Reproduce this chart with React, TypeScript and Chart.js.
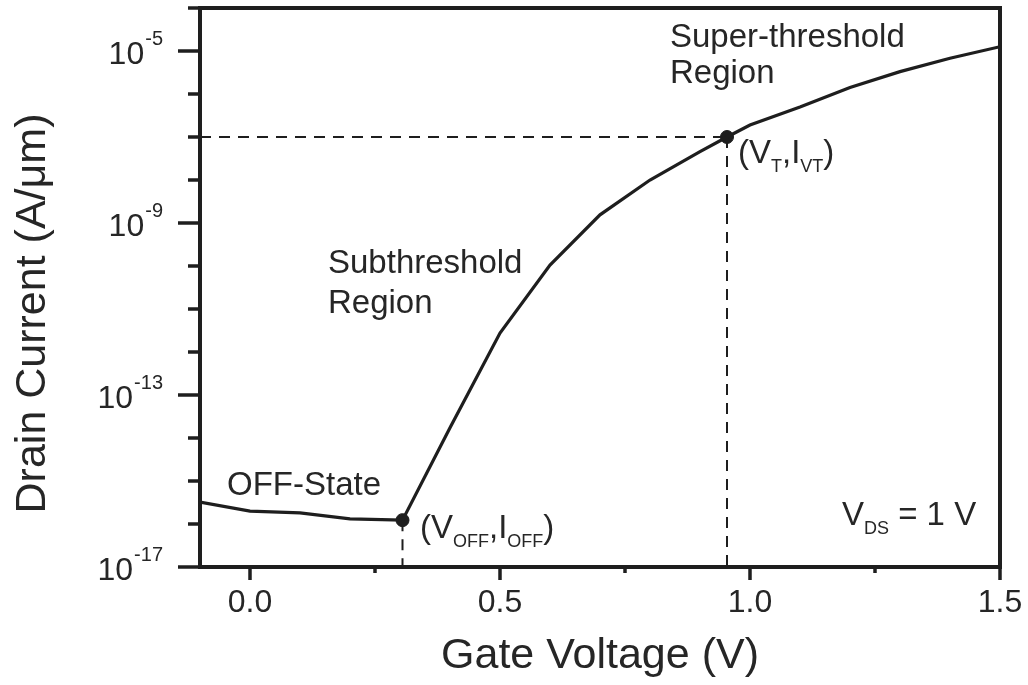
import { useEffect, useRef } from 'react';
import { Chart, registerables } from 'chart.js';

Chart.register(...registerables);

// ---- data ----
const gateVoltage = [-0.1, 0.0, 0.1, 0.2, 0.305, 0.4, 0.5, 0.6, 0.7, 0.8, 0.9, 0.954, 1.0, 1.1, 1.2, 1.3, 1.4, 1.5];
const logDrainCurrent = [-15.49, -15.7, -15.74, -15.88, -15.91, -13.76, -11.56, -9.98, -8.81, -8.0, -7.34, -7.0, -6.72, -6.3, -5.85, -5.48, -5.17, -4.9];

const markerNames = ['OFF', 'VT'];
const markerVoltage = [0.305, 0.954];
const markerLogCurrent = [-15.91, -7.0];

const xTicksMajor = [0.0, 0.5, 1.0, 1.5];
const xTickLabels = ['0.0', '0.5', '1.0', '1.5'];
const xTicksMinor = [0.25, 0.75, 1.25];
const yDecades = [-17, -16, -15, -14, -13, -12, -11, -10, -9, -8, -7, -6, -5, -4];
const yLabelExps = [-17, -13, -9, -5];

const X_MIN = -0.1;
const X_MAX = 1.5;
const Y_MIN_EXP = -17;
const Y_MAX_EXP = -4;

const INK = '#1e1e1e';
const TEXT = '#262626';
const FONT = '"Liberation Sans", Arial, Helvetica, sans-serif';

type Part = [string, boolean];
// annotations anchored in data coordinates (V, log10 I)
const annotations: { parts: Part[]; v: number; e: number; size: number }[] = [
  { parts: [['Super-threshold', false]], v: 0.84, e: -4.907, size: 33 },
  { parts: [['Region', false]], v: 0.84, e: -5.744, size: 33 },
  { parts: [['Subthreshold', false]], v: 0.156, e: -10.163, size: 33 },
  { parts: [['Region', false]], v: 0.156, e: -11.093, size: 33 },
  { parts: [['OFF-State', false]], v: -0.046, e: -15.326, size: 33 },
  { parts: [['(V', false], ['OFF', true], [',I', false], ['OFF', true], [')', false]], v: 0.34, e: -16.326, size: 33 },
  { parts: [['(V', false], ['T', true], [',I', false], ['VT', true], [')', false]], v: 0.976, e: -7.605, size: 33 },
  { parts: [['V', false], ['DS', true], [' = 1 V', false]], v: 1.184, e: -16.02, size: 33 },
];

function drawRich(ctx: CanvasRenderingContext2D, parts: Part[], x: number, y: number, size: number) {
  let cx = x;
  ctx.textAlign = 'left';
  ctx.textBaseline = 'alphabetic';
  for (const [t, sub] of parts) {
    if (sub) {
      ctx.font = `18px ${FONT}`;
      ctx.fillText(t, cx, y + 9);
      cx += ctx.measureText(t).width;
    } else {
      ctx.font = `${size}px ${FONT}`;
      ctx.fillText(t, cx, y);
      cx += ctx.measureText(t).width;
    }
  }
}

const framePlugin = {
  id: 'frame',
  afterDatasetsDraw(chart: any) {
    const { ctx, chartArea: a, scales } = chart;
    const x = scales.x;
    const y = scales.y;
    ctx.save();
    ctx.strokeStyle = INK;
    ctx.fillStyle = TEXT;
    ctx.lineCap = 'butt';

    // y ticks
    ctx.lineWidth = 3.5;
    for (const e of yDecades) {
      const py = y.getPixelForValue(Math.pow(10, e));
      const len = yLabelExps.includes(e) ? 22 : 12;
      ctx.beginPath();
      ctx.moveTo(a.left - len, py);
      ctx.lineTo(a.left, py);
      ctx.stroke();
    }
    // x ticks
    for (const v of xTicksMajor) {
      const px = x.getPixelForValue(v);
      ctx.beginPath();
      ctx.moveTo(px, a.bottom);
      ctx.lineTo(px, a.bottom + 13);
      ctx.stroke();
    }
    for (const v of xTicksMinor) {
      const px = x.getPixelForValue(v);
      ctx.beginPath();
      ctx.moveTo(px, a.bottom);
      ctx.lineTo(px, a.bottom + 6);
      ctx.stroke();
    }

    // frame
    ctx.lineWidth = 4;
    ctx.strokeRect(a.left, a.top, a.right - a.left, a.bottom - a.top);

    // x tick labels
    ctx.font = `32px ${FONT}`;
    ctx.textAlign = 'center';
    ctx.textBaseline = 'alphabetic';
    xTicksMajor.forEach((v, i) => {
      ctx.fillText(xTickLabels[i], x.getPixelForValue(v), a.bottom + 45);
    });

    // y tick labels 10^n
    for (const e of yLabelExps) {
      const py = y.getPixelForValue(Math.pow(10, e));
      const right = a.left - 37;
      ctx.font = `20px ${FONT}`;
      ctx.textAlign = 'right';
      const sup = String(e);
      ctx.fillText(sup, right, py - 6);
      const sw = ctx.measureText(sup).width;
      ctx.font = `32px ${FONT}`;
      ctx.fillText('10', right - sw - 1, py + 12.5);
    }

    // axis titles
    ctx.font = `43px ${FONT}`;
    ctx.textAlign = 'center';
    ctx.fillText('Gate Voltage (V)', (a.left + a.right) / 2, a.bottom + 101);
    ctx.save();
    ctx.translate(45, (a.top + a.bottom) / 2 + 26);
    ctx.rotate(-Math.PI / 2);
    ctx.fillText('Drain Current (A/\u03bcm)', 0, 0);
    ctx.restore();

    // annotations
    for (const an of annotations) {
      drawRich(ctx, an.parts, x.getPixelForValue(an.v), y.getPixelForValue(Math.pow(10, an.e)), an.size);
    }
    ctx.restore();
  },
};

export default function App() {
  const ref = useRef<HTMLCanvasElement | null>(null);

  useEffect(() => {
    if (!ref.current) return;
    const curve = gateVoltage.map((v, i) => ({ x: v, y: Math.pow(10, logDrainCurrent[i]) }));
    const markers = markerVoltage.map((v, i) => ({ x: v, y: Math.pow(10, markerLogCurrent[i]) }));
    const yBottom = Math.pow(10, Y_MIN_EXP);
    const vt = markers[1];
    const off = markers[0];
    const dash = {
      showLine: true,
      borderColor: INK,
      borderWidth: 2,
      borderDash: [11, 8],
      pointRadius: 0,
      tension: 0,
    };
    const chart = new Chart(ref.current, {
      type: 'scatter',
      data: {
        datasets: [
          { ...dash, label: 'I_VT level', data: [{ x: X_MIN, y: vt.y }, { x: vt.x, y: vt.y }] },
          { ...dash, label: 'V_T', data: [{ x: vt.x, y: vt.y }, { x: vt.x, y: yBottom }] },
          { ...dash, label: 'V_OFF', data: [{ x: off.x, y: off.y }, { x: off.x, y: yBottom }] },
          {
            label: 'Drain current',
            data: curve,
            showLine: true,
            borderColor: INK,
            borderWidth: 3.2,
            pointRadius: 0,
            tension: 0,
          },
          {
            label: markerNames.join(','),
            data: markers,
            showLine: false,
            pointRadius: 6.5,
            pointBackgroundColor: INK,
            pointBorderColor: INK,
          },
        ],
      },
      options: {
        animation: false,
        responsive: false,
        devicePixelRatio: 1,
        layout: { padding: { top: 8, right: 28, left: 0, bottom: 0 } },
        plugins: { legend: { display: false }, tooltip: { enabled: false } },
        scales: {
          x: {
            type: 'linear',
            min: X_MIN,
            max: X_MAX,
            grid: { display: false },
            border: { display: false },
            ticks: { display: false },
            afterFit: (s: any) => { s.height = 118; },
          },
          y: {
            type: 'logarithmic',
            min: Math.pow(10, Y_MIN_EXP),
            max: Math.pow(10, Y_MAX_EXP),
            grid: { display: false },
            border: { display: false },
            ticks: { display: false },
            afterFit: (s: any) => { s.width = 200; },
          },
        },
      },
      plugins: [framePlugin],
    } as any);
    return () => chart.destroy();
  }, []);

  return (
    <div style={{ position: 'fixed', left: 0, top: 0, width: 1028, height: 685, background: '#fff' }}>
      <canvas ref={ref} width={1028} height={685} style={{ width: 1028, height: 685, display: 'block' }} />
    </div>
  );
}
